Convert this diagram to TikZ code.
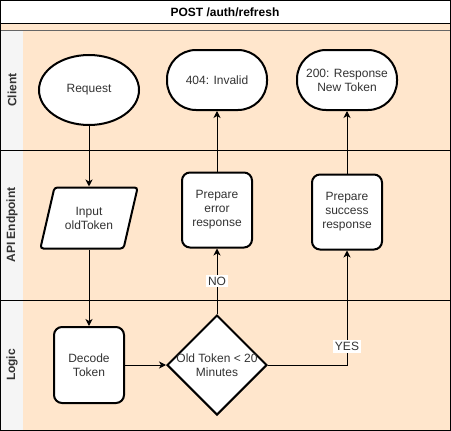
\documentclass[tikz,border=0pt]{standalone}
\usepackage{fontspec}
\setmainfont{Liberation Sans}
\usetikzlibrary{shapes.geometric,arrows.meta}
\definecolor{peach}{HTML}{FFE6CC}
\definecolor{lanegrey}{HTML}{F5F5F5}
\definecolor{inkgrey}{HTML}{333333}

\begin{document}
\begin{tikzpicture}[x=1pt,y=-1pt]
\tikzstyle{every node}=[font=\fontsize{12}{14}\selectfont, text=inkgrey, align=center]
\tikzstyle{step box}=[draw, line width=2pt, fill=white, rounded corners=8pt, minimum width=70pt, minimum height=75pt]
\tikzstyle{term}=[draw, line width=2pt, fill=white, rounded corners=29pt, minimum width=100pt, minimum height=60pt]
\tikzstyle{lane}=[rotate=90, font=\fontsize{12}{14}\selectfont\bfseries]
\tikzstyle{lbl}=[fill=white, inner sep=2pt]
\tikzstyle{flow}=[line width=1pt, -{Stealth[length=7pt,width=7pt,inset=2pt]}]
\useasboundingbox (0,0) rectangle (451,431);
% pool and lanes
\fill[peach] (0,23) rectangle (450,430);
\fill[lanegrey] (0,30) rectangle (23,430);
\draw[line width=1pt, black!60] (0,30) -- (450,30);
\draw[line width=1pt] (0,23) -- (450,23);
\draw[line width=1pt] (0,150) -- (450,150);
\draw[line width=1pt] (0,300) -- (450,300);
\draw[line width=1pt] (0.5,0.5) rectangle (450,430);
\node (title) at (225,12) [text=black, font=\fontsize{12}{14}\selectfont\bfseries] {POST /auth/refresh};
\node (client) at (12,90) [lane] {Client};
\node (api) at (12,225) [lane] {API Endpoint};
\node (logic) at (12,365) [lane] {Logic};
% shapes
\node (req) at (89,90) [ellipse, draw, line width=2pt, fill=white, minimum width=100pt, minimum height=70pt] {Request};
\node (inv) at (217,80) [term] {404: Invalid};
\node (ok) at (347,80) [term] {200: Response\\New Token};
\node (inp) at (89,218) [trapezium, trapezium left angle=69, trapezium right angle=111, trapezium stretches=true, draw, line width=2pt, fill=white, rounded corners=3pt, minimum width=98pt, minimum height=61pt] {Input\\oldToken};
\node (err) at (217,210) [step box] {Prepare\\error\\response};
\node (suc) at (347,212) [step box] {Prepare\\success\\response};
\node (dec) at (89,365) [step box, minimum height=76pt] {Decode\\Token};
\node (chk) at (217,365) [diamond, draw, line width=2pt, fill=white, minimum width=100pt, minimum height=100pt, inner sep=0pt] {};
\node (chktext) at (chk) {Old Token < 20\\Minutes};
% connectors
\draw[flow] (req) -- (inp);
\draw[flow] (inp) -- (dec);
\draw[flow] (dec) -- (chk);
\draw[flow] (chk) -- node[lbl] {NO} (err);
\draw[flow] (err) -- (inv);
\draw[flow] (chk) -| node[lbl, pos=0.58] {YES} (suc);
\draw[flow] (suc) -- (ok);
\end{tikzpicture}
\end{document}
